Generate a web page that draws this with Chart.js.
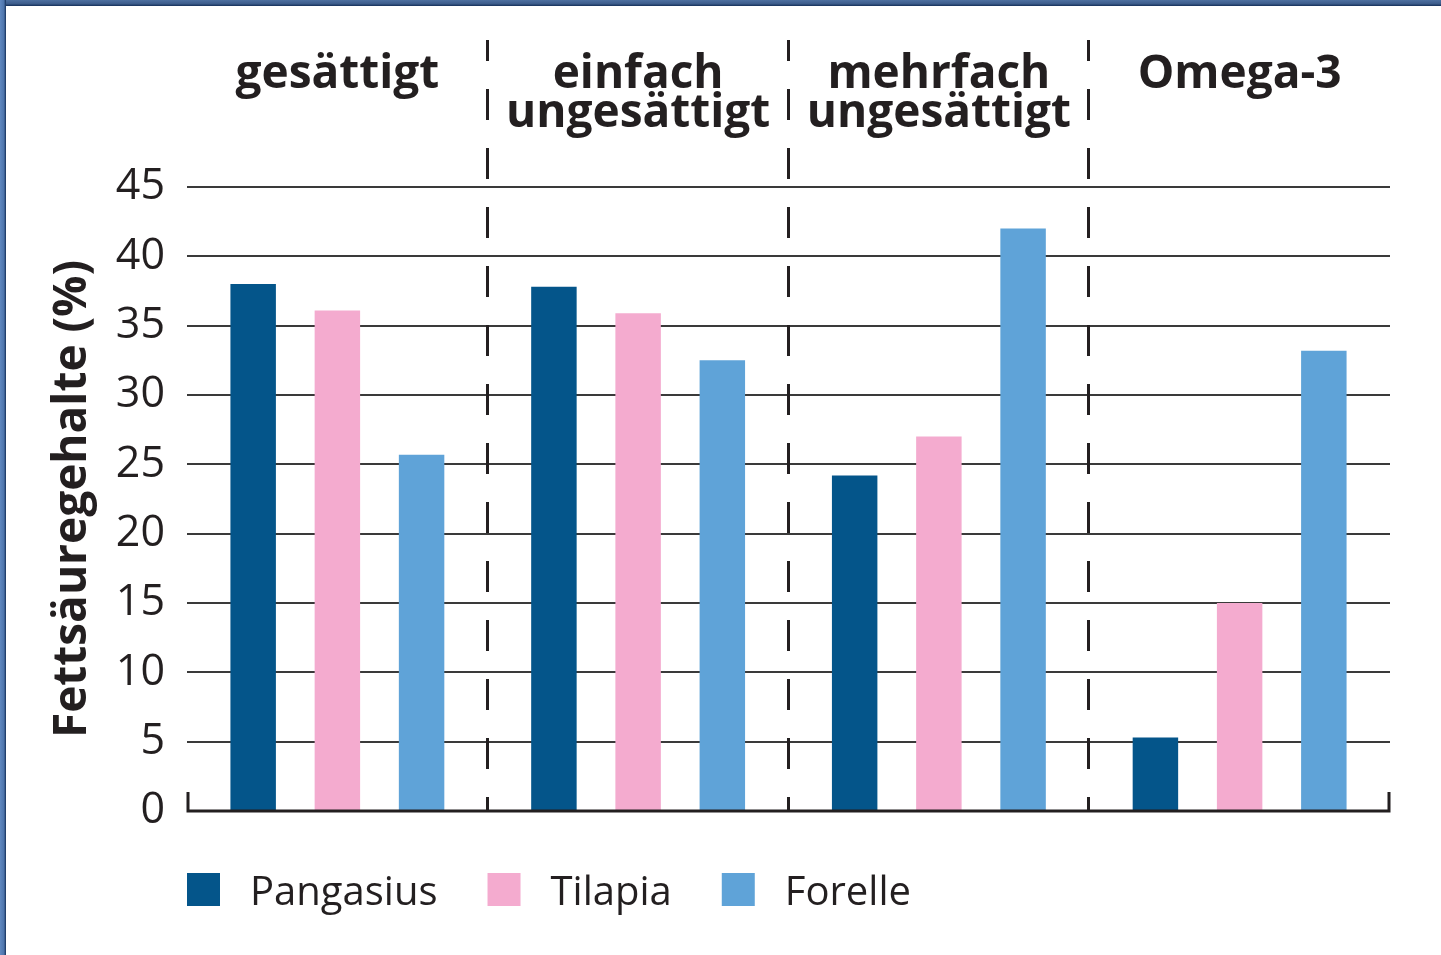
<!DOCTYPE html>
<html>
<head>
<meta charset="utf-8">
<script src="https://cdn.jsdelivr.net/npm/chart.js@4.4.0/dist/chart.umd.min.js"></script>
<style>
    body { margin: 0; background: #fff; overflow: hidden; }
    #wrap { position: relative; width: 1441px; height: 955px; }
    #wrap canvas { position: absolute; left: 0; top: 0; }
    #frameTop { position: absolute; left: 0; top: 0; width: 1441px; height: 6px; background: linear-gradient(#4e70a0 0%, #3d5d8c 60%, #15305a 100%); }
    #frameLeft { position: absolute; left: 0; top: 0; width: 6px; height: 955px; background: linear-gradient(to right, #6088c0 0%, #4e75ac 65%, #15305a 100%); }
</style>
</head>
<body>
<div id="wrap">
    <canvas id="myBarChart" width="1441" height="955"></canvas>
    <div id="frameTop"></div>
    <div id="frameLeft"></div>
</div>
<script>
// categories (top labels) and the three fish
var categories = [["gesättigt"], ["einfach", "ungesättigt"], ["mehrfach", "ungesättigt"], ["Omega-3"]];
var pangasius = [38.0, 37.8, 24.2, 5.3];
var tilapia = [36.1, 35.9, 27.0, 15.0];
var forelle = [25.7, 32.5, 42.0, 33.2];
var yTicks = [0, 5, 10, 15, 20, 25, 30, 35, 40, 45];

var textColor = '#231f20';

// dashed separators, baseline and legend
var extras = {
    id: 'extras',
    afterDatasetsDraw: function (chart) {
        var ctx = chart.ctx;
        var area = chart.chartArea;
        var x = chart.scales.x;
        var y0 = chart.scales.y.getPixelForValue(0);
        ctx.save();
        ctx.strokeStyle = textColor;

        // separators between the groups
        ctx.lineWidth = 3;
        ctx.setLineDash([31, 28]);
        ctx.lineDashOffset = 17;
        for (var i = 0; i < categories.length - 1; i++) {
            var sx = Math.round((x.getPixelForValue(i) + x.getPixelForValue(i + 1)) / 2) - 0.5;
            ctx.beginPath();
            ctx.moveTo(sx, y0);
            ctx.lineTo(sx, 40);
            ctx.stroke();
        }
        ctx.setLineDash([]);

        // baseline with end ticks
        ctx.lineWidth = 3;
        ctx.beginPath();
        ctx.moveTo(area.left + 1, y0 - 19);
        ctx.lineTo(area.left + 1, y0);
        ctx.lineTo(area.right - 1, y0);
        ctx.lineTo(area.right - 1, y0 - 19);
        ctx.stroke();
        ctx.restore();
    },
    afterDraw: function (chart) {
        var ctx = chart.ctx;
        var lx = chart.chartArea.left;
        var base = 905;
        ctx.save();
        ctx.font = '400 40px "Open Sans"';
        ctx.textBaseline = 'alphabetic';
        ctx.textAlign = 'left';
        chart.data.datasets.forEach(function (ds) {
            ctx.fillStyle = ds.backgroundColor;
            ctx.fillRect(lx, 873, 33, 33);
            lx += 33 + 30;
            ctx.fillStyle = textColor;
            ctx.fillText(ds.label, lx, base);
            lx += ctx.measureText(ds.label).width + 50;
        });
        ctx.restore();
    }
};

var chart = new Chart(document.getElementById('myBarChart').getContext('2d'), {
    type: 'bar',
    data: {
        labels: categories,
        datasets: [{
            label: 'Pangasius',
            backgroundColor: '#04558a',
            data: pangasius
        }, {
            label: 'Tilapia',
            backgroundColor: '#f4abcf',
            data: tilapia
        }, {
            label: 'Forelle',
            backgroundColor: '#5fa3d8',
            data: forelle
        }]
    },
    options: {
        responsive: false,
        devicePixelRatio: 1,
        animation: false,
        layout: { padding: { left: 0, right: 51, top: 0, bottom: 144 } },
        datasets: {
            bar: { categoryPercentage: 0.84, barPercentage: 0.54 }
        },
        plugins: {
            legend: { display: false },
            tooltip: { enabled: false }
        },
        scales: {
            x: {
                position: 'top',
                grid: { display: false, drawTicks: false },
                border: { display: false },
                ticks: {
                    color: textColor,
                    font: { family: '"Open Sans"', size: 46, weight: 'bold', lineHeight: '39px' },
                    padding: 54,
                    crossAlign: 'far',
                    maxRotation: 0,
                    autoSkip: false
                },
                afterFit: function (scale) { scale.height = 187; }
            },
            y: {
                min: 0,
                max: 45,
                afterBuildTicks: function (scale) {
                    scale.ticks = yTicks.map(function (v) { return { value: v }; });
                },
                grid: {
                    color: '#3a3a3a',
                    lineWidth: 2,
                    drawTicks: false
                },
                border: { display: false },
                ticks: {
                    color: textColor,
                    font: { family: '"Open Sans"', size: 43 },
                    padding: 22
                },
                title: {
                    display: true,
                    text: 'Fettsäuregehalte (%)',
                    color: textColor,
                    font: { family: '"Open Sans"', size: 46, weight: 'bold' },
                    padding: { top: 45, bottom: 0 }
                },
                afterFit: function (scale) { scale.width = 187; }
            }
        }
    },
    plugins: [extras]
});
</script>
</body>
</html>
